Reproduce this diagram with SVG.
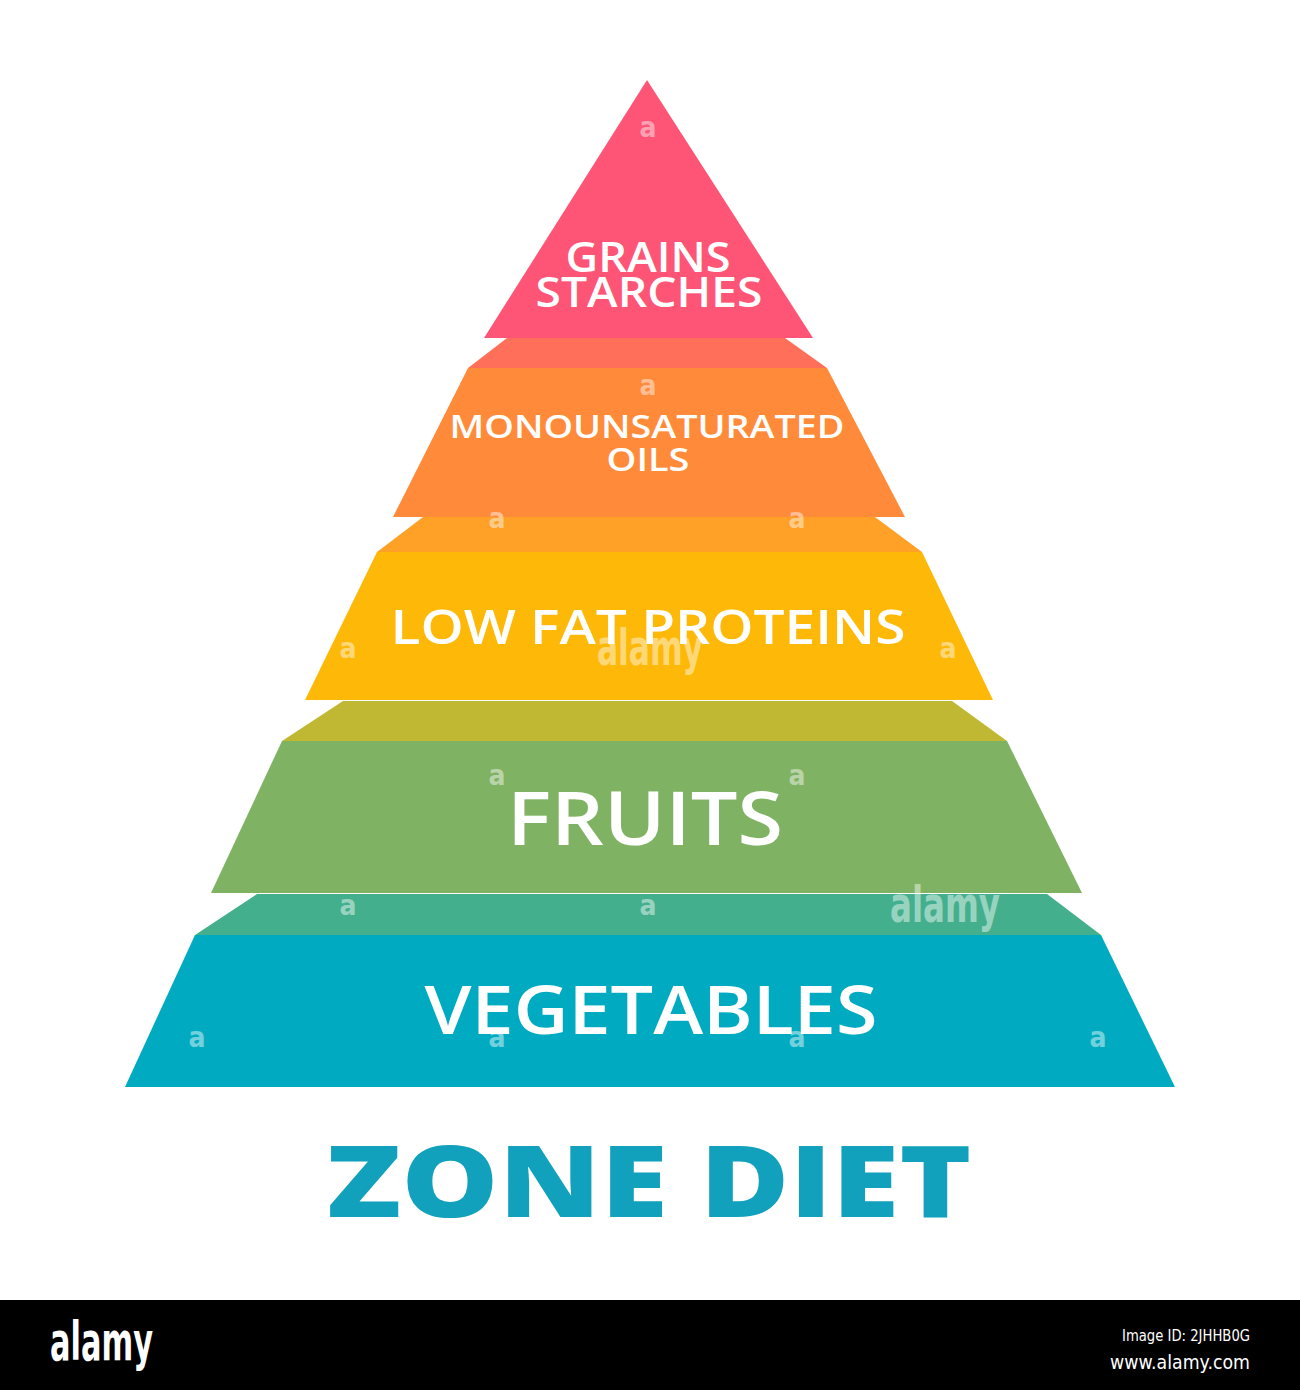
<svg xmlns="http://www.w3.org/2000/svg" width="1300" height="1390" viewBox="0 0 1300 1390">
<style>
.lbl{font-family:"Open Sans","Noto Sans",sans-serif;font-weight:600;fill:#ffffff;text-anchor:middle}
.wm{font-family:"DejaVu Sans",sans-serif;font-weight:700;font-stretch:condensed;fill:#ffffff;opacity:0.45;text-anchor:middle}
.ft{font-family:"DejaVu Sans",sans-serif;fill:#ffffff}
</style>
<rect x="0" y="0" width="1300" height="1390" fill="#ffffff"/>
<g id="connectors">
<polygon points="507,338 785,338 827,368 468,368" fill="#FF6F5A"/>
<polygon points="423,517 875,517 922,552 377,552" fill="#FFA126"/>
<polygon points="343,701 952,701 1007,741 282,741" fill="#C0B832"/>
<polygon points="257,894 1047,894 1101,935 195,935" fill="#44AF8C"/>
</g>
<g id="tier-grains">
<polygon points="647,80 813,338 484,338" fill="#FE5475"/>
<text class="lbl" x="648" y="272" font-size="41" textLength="165" lengthAdjust="spacingAndGlyphs">GRAINS</text>
<text class="lbl" x="649" y="307" font-size="41" textLength="227" lengthAdjust="spacingAndGlyphs">STARCHES</text>
</g>
<g id="tier-oils">
<polygon points="468,368 827,368 905,517 393,517" fill="#FF8A3A"/>
<text class="lbl" x="647" y="438" font-size="32" textLength="395" lengthAdjust="spacingAndGlyphs">MONOUNSATURATED</text>
<text class="lbl" x="648" y="471" font-size="32" textLength="83" lengthAdjust="spacingAndGlyphs">OILS</text>
</g>
<g id="tier-proteins">
<polygon points="377,552 922,552 993,700 305,700" fill="#FEB908"/>
<text class="lbl" x="648" y="644" font-size="47" textLength="515" lengthAdjust="spacingAndGlyphs">LOW FAT PROTEINS</text>
</g>
<g id="tier-fruits">
<polygon points="282,741 1007,741 1082,893 211,893" fill="#7FB262"/>
<text class="lbl" x="645" y="845" font-size="75" textLength="276" lengthAdjust="spacingAndGlyphs">FRUITS</text>
</g>
<g id="tier-vegetables">
<polygon points="195,935 1101,935 1175,1087 125,1087" fill="#00ABC1"/>
<text class="lbl" x="651" y="1034" font-size="67" textLength="453" lengthAdjust="spacingAndGlyphs">VEGETABLES</text>
</g>
<g id="title">
<text x="649" y="1217" font-family="'Open Sans','Noto Sans',sans-serif" font-weight="800" font-size="100" fill="#12A1BC" text-anchor="middle" textLength="645" lengthAdjust="spacingAndGlyphs">ZONE DIET</text>
</g>
<g id="watermarks">
<text class="wm" x="648" y="137" font-size="28">a</text>
<text class="wm" x="648" y="395" font-size="28">a</text>
<text class="wm" x="497" y="528" font-size="28">a</text>
<text class="wm" x="797" y="528" font-size="28">a</text>
<text class="wm" x="348" y="658" font-size="28">a</text>
<text class="wm" x="948" y="658" font-size="28">a</text>
<text class="wm" x="497" y="785" font-size="28">a</text>
<text class="wm" x="797" y="785" font-size="28">a</text>
<text class="wm" x="348" y="915" font-size="28">a</text>
<text class="wm" x="648" y="915" font-size="28">a</text>
<text class="wm" x="197" y="1047" font-size="28">a</text>
<text class="wm" x="497" y="1047" font-size="28">a</text>
<text class="wm" x="797" y="1047" font-size="28">a</text>
<text class="wm" x="1098" y="1047" font-size="28">a</text>
<text class="wm" x="650" y="665" font-size="50" textLength="106" lengthAdjust="spacingAndGlyphs">alamy</text>
<text class="wm" x="945" y="922" font-size="50" textLength="110" lengthAdjust="spacingAndGlyphs">alamy</text>
</g>
<g id="footer">
<rect x="0" y="1300" width="1300" height="90" fill="#000000"/>
<text x="50" y="1360" font-family="'DejaVu Sans',sans-serif" font-weight="700" font-stretch="condensed" font-size="54" fill="#ffffff" textLength="103" lengthAdjust="spacingAndGlyphs">alamy</text>
<text class="ft" x="1250" y="1341" font-size="16" text-anchor="end" textLength="128" lengthAdjust="spacingAndGlyphs">Image ID: 2JHHB0G</text>
<text class="ft" x="1250" y="1369" font-size="20" text-anchor="end" textLength="140" lengthAdjust="spacingAndGlyphs">www.alamy.com</text>
</g>
</svg>
